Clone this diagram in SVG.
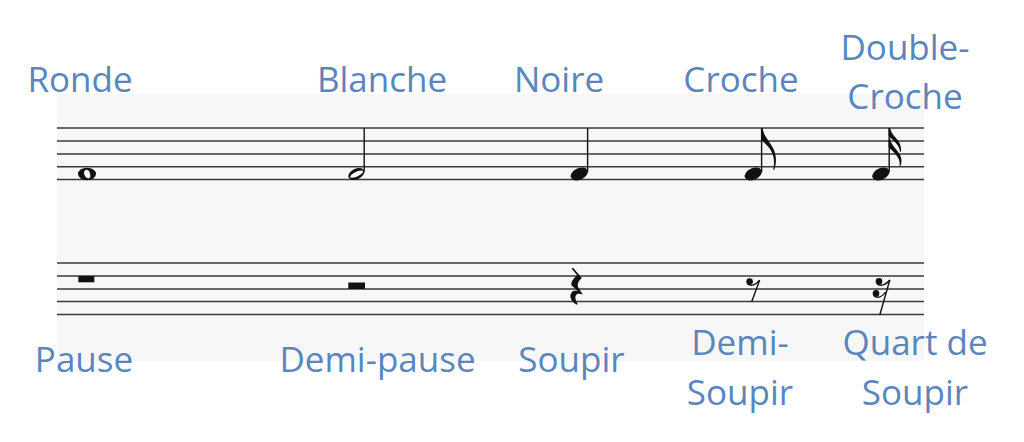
<svg xmlns="http://www.w3.org/2000/svg" width="1024" height="442" viewBox="0 0 1024 442">
<style>
.lbl{font-family:"Open Sans","Noto Sans","DejaVu Sans",sans-serif;font-size:35px;fill:#5986bf;text-anchor:middle}
.staff line{stroke:#3a3a3a;stroke-width:1.5}
.ink{fill:#111}
.stem{stroke:#111;stroke-width:1.4;fill:none}
</style>
<rect x="0" y="0" width="1024" height="442" fill="#ffffff"/>
<rect id="panel" x="57" y="94" width="867" height="267" fill="#f7f7f8"/>
<g id="staff-top" class="staff">
<line x1="57" y1="128" x2="924" y2="128"/>
<line x1="57" y1="141" x2="924" y2="141"/>
<line x1="57" y1="154" x2="924" y2="154"/>
<line x1="57" y1="166.7" x2="924" y2="166.7"/>
<line x1="57" y1="179.5" x2="924" y2="179.5"/>
</g>
<g id="staff-bottom" class="staff">
<line x1="57" y1="263" x2="924" y2="263"/>
<line x1="57" y1="276" x2="924" y2="276"/>
<line x1="57" y1="289" x2="924" y2="289"/>
<line x1="57" y1="301.5" x2="924" y2="301.5"/>
<line x1="57" y1="314.5" x2="924" y2="314.5"/>
</g>
<g id="ronde">
<path class="ink" fill-rule="evenodd" d="M78,174 A9,6.2 0 1 0 96,174 A9,6.2 0 1 0 78,174 Z M84.5,171 C83,173 85,178 88.5,178.5 C91,178.5 90.5,174.5 89.5,172 C88.5,169.5 85.8,169 84.5,171 Z"/>
<text class="lbl" x="80" y="92">Ronde</text>
</g>
<g id="blanche">
<path class="ink" fill-rule="evenodd" transform="rotate(-25 356.3 174)" d="M347.8,174 A8.5,5.3 0 1 0 364.8,174 A8.5,5.3 0 1 0 347.8,174 Z M350.5,175.5 A6.2,2 0 1 0 362.5,173 A6.2,2 0 1 0 350.5,175.5 Z"/>
<line class="stem" x1="364.2" y1="128" x2="364.2" y2="172"/>
<text class="lbl" x="382" y="92">Blanche</text>
</g>
<g id="noire">
<ellipse class="ink" cx="579.2" cy="174" rx="9" ry="5.8" transform="rotate(-25 579.2 174)"/>
<line class="stem" x1="587.6" y1="128" x2="587.6" y2="172"/>
<text class="lbl" x="559" y="92">Noire</text>
</g>
<g id="croche">
<ellipse class="ink" cx="753.2" cy="174" rx="9" ry="5.8" transform="rotate(-25 753.2 174)"/>
<line class="stem" x1="761.6" y1="128" x2="761.6" y2="172"/>
<path class="ink" d="M761,128 L762.6,128 C763.5,136 769,140 773,148 C777,156 776.5,163 774.2,170 L773.2,169.6 C775,162 774,155 770,149 C767,145 763,142 761,139 Z"/>
<text class="lbl" x="741" y="92">Croche</text>
</g>
<g id="double-croche">
<ellipse class="ink" cx="880.8" cy="174" rx="9" ry="5.8" transform="rotate(-25 880.8 174)"/>
<line class="stem" x1="889.2" y1="128" x2="889.2" y2="172"/>
<path class="ink" d="M888.6,128 L890.2,128 C891,134 896,137 899,142 C901,146 901.5,149 900.8,152 L899.8,151.6 C900,148 897,144 894,141 C892,139 889.5,137 888.6,136 Z"/>
<path class="ink" d="M888.6,139 L890.2,139 C891,145 896,148 899.5,154 C902,158 902,162 900.5,166 L899.5,165.6 C900.5,161 898,157 894.5,153 C892,150 889.5,148.5 888.6,147 Z"/>
<text class="lbl" x="905" y="60">Double-</text>
<text class="lbl" x="905" y="109">Croche</text>
</g>
<g id="pause">
<rect class="ink" x="78.3" y="276" width="16" height="6.3"/>
<text class="lbl" x="84" y="372">Pause</text>
</g>
<g id="demi-pause">
<rect class="ink" x="348.3" y="282.5" width="16.7" height="6.5"/>
<text class="lbl" x="377.5" y="372">Demi-pause</text>
</g>
<g id="soupir">
<path class="ink" d="M571.5,268.6 L573,267.8 L581.8,278 C578.2,281.5 576.8,284 578.3,287.5 L582.8,294.5 C578,292.8 574.2,294.5 575.7,299.5 C576.3,301.5 577.1,303 577.9,304 L576.6,304.8 C570.3,301 569.3,296 571.3,293 C572.8,290.5 575.8,290.2 578.3,291 L571.8,285.8 C570.3,282 573.3,279 577,275 Z"/>
<text class="lbl" x="571.5" y="372">Soupir</text>
</g>
<g id="demi-soupir">
<circle class="ink" cx="749.6" cy="281.6" r="3.3"/>
<path class="stem" d="M747.5,284 C751,286.5 756,285 759.6,280.2"/>
<line class="stem" x1="759.6" y1="280.2" x2="751.6" y2="302"/>
<text class="lbl" x="740" y="355">Demi-</text>
<text class="lbl" x="740" y="405">Soupir</text>
</g>
<g id="quart-de-soupir">
<circle class="ink" cx="879" cy="281.4" r="3.3"/>
<circle class="ink" cx="876" cy="293.4" r="3.3"/>
<path class="stem" d="M877,284 C880.5,286.5 886,285 889.8,280"/>
<path class="stem" d="M874,296 C877.5,298.5 882.5,297 885.5,292"/>
<line class="stem" x1="889.8" y1="280" x2="879.8" y2="315"/>
<text class="lbl" x="915" y="355">Quart de</text>
<text class="lbl" x="915" y="405">Soupir</text>
</g>
</svg>
